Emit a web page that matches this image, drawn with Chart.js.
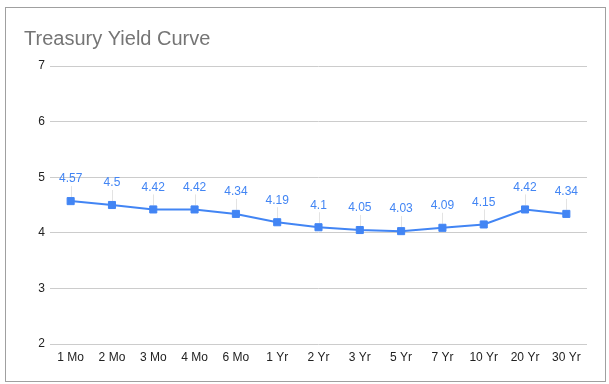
<!DOCTYPE html>
<html>
<head>
<meta charset="utf-8">
<script src="https://cdn.jsdelivr.net/npm/chart.js@4"></script>
<style>
  body { margin: 0; background: #fff; }
  #wrap { position: relative; width: 609px; height: 384px; }
  #frame {
    position: absolute; left: 5px; top: 7px; width: 601px; height: 375px;
    box-sizing: border-box; border: 1px solid #a0a0a0;
  }
  #yield { position: absolute; left: 0; top: 0; }
</style>
</head>
<body>
<div id="wrap">
  <div id="frame"></div>
  <canvas id="yield" width="609" height="384"></canvas>
</div>
<script>
const titleText = 'Treasury Yield Curve'
const maturities = ['1 Mo', '2 Mo', '3 Mo', '4 Mo', '6 Mo', '1 Yr', '2 Yr', '3 Yr', '5 Yr', '7 Yr', '10 Yr', '20 Yr', '30 Yr']
const yields = [4.57, 4.5, 4.42, 4.42, 4.34, 4.19, 4.1, 4.05, 4.03, 4.09, 4.15, 4.42, 4.34]
const yMin = 2
const yMax = 7

const blue = '#4285f4'
const fontFamily = '"Liberation Sans", Arial, sans-serif'

// title + point labels with little leader lines, like sheets draws them
const sheetsLabels = {
  id: 'sheetsLabels',
  beforeDatasetsDraw(chart) {
    const ctx = chart.ctx
    const meta = chart.getDatasetMeta(0)
    ctx.save()
    ctx.strokeStyle = '#e3e3e3'
    ctx.lineWidth = 1
    meta.data.forEach((pt) => {
      const x = Math.round(pt.x) + 0.5
      ctx.beginPath()
      ctx.moveTo(x, pt.y - 15)
      ctx.lineTo(x, pt.y - 4)
      ctx.stroke()
    })
    ctx.restore()
  },
  afterDatasetsDraw(chart) {
    const ctx = chart.ctx
    const meta = chart.getDatasetMeta(0)
    const values = chart.data.datasets[0].data
    ctx.save()
    ctx.font = '12px ' + fontFamily
    ctx.fillStyle = blue
    ctx.textAlign = 'center'
    ctx.textBaseline = 'middle'
    meta.data.forEach((pt, i) => {
      ctx.fillText(String(values[i]), pt.x, pt.y - 22)
    })
    ctx.restore()
  },
  afterDraw(chart) {
    const ctx = chart.ctx
    ctx.save()
    ctx.font = '20px ' + fontFamily
    ctx.fillStyle = '#757575'
    ctx.textAlign = 'left'
    ctx.textBaseline = 'alphabetic'
    ctx.fillText(titleText, 24, 45)
    ctx.restore()
  },
}

const yieldData = {
  labels: maturities,
  datasets: [
    {
      data: yields,
      borderColor: blue,
      backgroundColor: blue,
      borderWidth: 2,
      fill: false,
      tension: 0,
      pointStyle: 'rect',
      pointRadius: 5,
      pointBorderWidth: 1,
      pointHoverRadius: 5,
    },
  ],
}

const configYield = {
  type: 'line',
  data: yieldData,
  options: {
    responsive: false,
    animation: false,
    layout: { padding: { left: 0, right: 22, top: 66, bottom: 0 } },
    plugins: {
      legend: { display: false },
      title: { display: false },
      tooltip: { enabled: false },
    },
    scales: {
      x: {
        offset: true,
        grid: { display: false, drawTicks: false },
        border: { display: false },
        ticks: {
          color: '#222',
          font: { family: fontFamily, size: 12 },
          padding: 6,
          maxRotation: 0,
          autoSkip: false,
        },
        afterFit(scale) { scale.height = 40 },
      },
      y: {
        min: yMin,
        max: yMax,
        grid: { color: '#cccccc', drawTicks: false },
        border: { display: false },
        ticks: {
          stepSize: 1,
          color: '#222',
          font: { family: fontFamily, size: 12 },
          padding: 5,
        },
        afterFit(scale) { scale.width = 50 },
      },
    },
  },
  plugins: [sheetsLabels],
}

const yieldChart = new Chart(document.getElementById('yield'), configYield)
</script>
</body>
</html>
